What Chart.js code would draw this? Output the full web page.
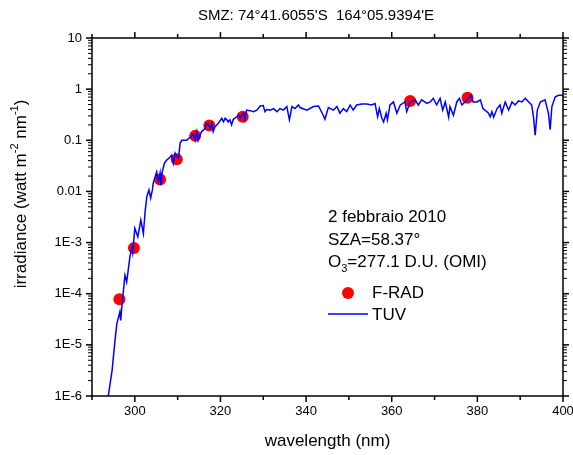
<!DOCTYPE html>
<html>
<head>
<meta charset="utf-8">
<script src="https://cdn.jsdelivr.net/npm/chart.js@4.4.0/dist/chart.umd.min.js"></script>
<style>
  html, body { margin: 0; padding: 0; background: #fff; }
  #wrap { width: 573px; height: 455px; }
</style>
</head>
<body>
<div id="wrap"><canvas id="c" width="573" height="455"></canvas></div>
<script>
// TUV model spectrum (nm, watt m-2 nm-1)
const tuvWavelength = [
  293.8, 294.7, 295.3, 295.8, 296.5, 296.7, 297.0, 297.7, 298.1, 298.9,
  299.3, 299.5, 300.0, 300.7, 301.4, 302.0, 302.4, 302.8, 303.3, 303.7,
  304.1, 304.3, 305.1, 305.5, 305.9, 306.1, 306.4, 306.9, 307.4, 308.0,
  308.6, 309.0, 309.4, 310.2, 310.6, 311.0, 312.1, 312.9, 313.7, 314.1,
  314.5, 314.8, 315.2, 315.6, 316.4, 316.8, 317.2, 317.6, 318.0, 318.3,
  318.7, 319.5, 320.3, 320.7, 321.1, 321.5, 321.8, 322.2, 322.6, 323.0,
  323.8, 324.2, 324.6, 325.0, 325.4, 325.7, 326.1, 326.9, 327.7, 328.5,
  329.3, 330.0, 330.4, 330.8, 331.6, 332.4, 333.2, 333.9, 334.7, 335.5,
  336.1, 336.7, 337.4, 338.2, 338.6, 340.2, 341.7, 342.9, 344.0, 344.4,
  345.2, 346.4, 347.2, 347.9, 348.7, 349.5, 350.3, 351.0, 351.8, 353.0,
  354.2, 355.3, 356.1, 356.7, 357.1, 357.7, 358.1, 358.7, 359.0, 359.6,
  360.4, 361.2, 362.0, 363.1, 363.5, 364.3, 365.5, 366.2, 367.0, 368.2,
  369.0, 369.7, 370.5, 371.3, 371.9, 372.5, 373.3, 373.6, 374.4, 375.2,
  375.8, 376.4, 377.1, 377.9, 378.5, 379.0, 379.9, 380.7, 381.3, 381.8,
  382.6, 383.0, 383.4, 383.8, 384.6, 385.3, 385.7, 386.5, 387.3, 388.1,
  388.8, 389.6, 390.4, 391.2, 392.0, 392.7, 393.1, 393.5, 394.0, 394.7,
  395.8, 396.6, 397.0, 397.4, 398.2, 399.0, 399.8, 400.0
];
const tuvIrradiance = [
  1.0e-6, 3.2e-6, 1.07e-5, 2.6e-5, 4.4e-5, 3.0e-5, 6.0e-5, 2.3e-4, 1.7e-4, 5.6e-4,
  7.8e-4, 6.3e-4, 1.9e-3, 1.3e-3, 2.75e-3, 1.5e-3, 4.0e-3, 7.9e-3, 1.07e-2, 7.4e-3,
  1.07e-2, 1.45e-2, 2.4e-2, 1.55e-2, 2.29e-2, 1.32e-2, 2.4e-2, 3.55e-2, 4.07e-2, 4.47e-2,
  5.13e-2, 3.55e-2, 5.62e-2, 4.47e-2, 8.9e-2, 0.1, 0.1, 0.115, 0.132, 0.1,
  0.148, 0.1, 0.126, 0.148, 0.17, 0.214, 0.2, 0.17, 0.214, 0.148,
  0.182, 0.214, 0.269, 0.229, 0.269, 0.251, 0.229, 0.251, 0.2, 0.257,
  0.288, 0.309, 0.269, 0.309, 0.339, 0.251, 0.389, 0.38, 0.363, 0.389,
  0.468, 0.479, 0.363, 0.398, 0.389, 0.417, 0.363, 0.417, 0.389, 0.457,
  0.251, 0.457, 0.417, 0.49, 0.437, 0.389, 0.457, 0.468, 0.309, 0.257,
  0.437, 0.389, 0.457, 0.339, 0.417, 0.363, 0.49, 0.389, 0.49, 0.513,
  0.513, 0.49, 0.525, 0.288, 0.417, 0.269, 0.229, 0.339, 0.251, 0.49,
  0.562, 0.339, 0.49, 0.562, 0.363, 0.562, 0.617, 0.49, 0.617, 0.525,
  0.562, 0.661, 0.49, 0.661, 0.389, 0.562, 0.282, 0.457, 0.309, 0.562,
  0.661, 0.49, 0.562, 0.661, 0.759, 0.562, 0.562, 0.617, 0.417, 0.389,
  0.339, 0.288, 0.363, 0.282, 0.417, 0.49, 0.339, 0.562, 0.389, 0.562,
  0.49, 0.589, 0.562, 0.661, 0.562, 0.49, 0.288, 0.126, 0.389, 0.562,
  0.617, 0.339, 0.162, 0.457, 0.708, 0.759, 0.759, 0.741
];

// F-RAD radiometer measurements
const fradWavelength = [296.4, 299.8, 305.9, 309.8, 314.1, 317.4, 325.2, 364.3, 377.7];
const fradIrradiance = [7.8e-5, 7.8e-4, 0.0172, 0.0428, 0.122, 0.195, 0.288, 0.585, 0.68];

// axis ticks
const xMajorTicks = [300, 320, 340, 360, 380, 400];
const xMinorTicks = [290, 310, 330, 350, 370, 390];
const yTickValues = [10, 1, 0.1, 0.01, 1e-3, 1e-4, 1e-5, 1e-6];
const yTickLabels = ['10', '1', '0.1', '0.01', '1E-3', '1E-4', '1E-5', '1E-6'];

const titleText = "SMZ: 74\u00b041.6055'S  164\u00b005.9394'E";
const infoLines = ['2 febbraio 2010', 'SZA=58.37\u00b0'];

const FONT = 'Arial, "Liberation Sans", sans-serif';

/**
 * Origin風の枠・目盛・テキストを描く
 */
const framePlugin = {
  id: 'frame',
  afterDraw(chart) {
    const { ctx, chartArea: a, scales: { x, y } } = chart;
    ctx.save();
    ctx.strokeStyle = '#000';
    ctx.fillStyle = '#000';
    ctx.lineWidth = 1.5;
    ctx.strokeRect(a.left, a.top, a.right - a.left, a.bottom - a.top);

    const tick = (x1, y1, x2, y2) => {
      ctx.beginPath();
      ctx.moveTo(x1, y1);
      ctx.lineTo(x2, y2);
      ctx.stroke();
    };

    // x ticks (bottom + top)
    xMajorTicks.forEach(v => {
      const px = x.getPixelForValue(v);
      tick(px, a.bottom, px, a.bottom + 6);
      tick(px, a.top, px, a.top - 6);
    });
    xMinorTicks.forEach(v => {
      const px = x.getPixelForValue(v);
      tick(px, a.bottom, px, a.bottom + 4);
      tick(px, a.top, px, a.top - 4);
    });

    // y ticks (left + right), log minor ticks
    yTickValues.forEach((v, i) => {
      const py = y.getPixelForValue(v);
      ctx.lineWidth = 1.5;
      tick(a.left, py, a.left - 6, py);
      tick(a.right, py, a.right + 6, py);
      ctx.lineWidth = 1;
      if (i > 0) {
        for (let m = 2; m <= 9; m++) {
          const pm = y.getPixelForValue(v * m);
          tick(a.left, pm, a.left - 4, pm);
          tick(a.right, pm, a.right + 4, pm);
        }
      }
    });

    // tick labels
    ctx.font = `13px ${FONT}`;
    ctx.textAlign = 'right';
    ctx.textBaseline = 'middle';
    yTickValues.forEach((v, i) => {
      ctx.fillText(yTickLabels[i], a.left - 10, y.getPixelForValue(v));
    });
    ctx.textAlign = 'center';
    ctx.textBaseline = 'top';
    xMajorTicks.forEach(v => {
      ctx.fillText(String(v), x.getPixelForValue(v), a.bottom + 9);
    });

    // title + axis titles
    ctx.font = `15px ${FONT}`;
    ctx.textBaseline = 'middle';
    ctx.fillText(titleText, 316, 16);
    ctx.font = `17px ${FONT}`;
    ctx.fillText('wavelength (nm)', (a.left + a.right) / 2, 441);

    // y title with superscripts
    ctx.save();
    ctx.translate(21, 194);
    ctx.rotate(-Math.PI / 2);
    const parts = [
      ['irradiance (watt m', 17, 0], ['-2', 11, -6],
      [' nm', 17, 0], ['-1', 11, -6], [')', 17, 0],
    ];
    let total = 0;
    parts.forEach(p => { ctx.font = `${p[1]}px ${FONT}`; total += ctx.measureText(p[0]).width; });
    let cx = -total / 2;
    ctx.textAlign = 'left';
    parts.forEach(p => {
      ctx.font = `${p[1]}px ${FONT}`;
      ctx.fillText(p[0], cx, p[2]);
      cx += ctx.measureText(p[0]).width;
    });
    ctx.restore();

    // info text
    ctx.textAlign = 'left';
    ctx.font = `17px ${FONT}`;
    ctx.fillText(infoLines[0], 328, 217);
    ctx.fillText(infoLines[1], 328, 240);
    ctx.fillText('O', 328, 262);
    let ox = 328 + ctx.measureText('O').width;
    ctx.font = `11px ${FONT}`;
    ctx.fillText('3', ox, 269);
    ox += ctx.measureText('3').width;
    ctx.font = `17px ${FONT}`;
    ctx.fillText('=277.1 D.U. (OMI)', ox, 262);

    // legend
    ctx.fillStyle = '#ff0000';
    ctx.beginPath();
    ctx.arc(348, 293, 6, 0, Math.PI * 2);
    ctx.fill();
    ctx.strokeStyle = '#0000ff';
    ctx.lineWidth = 1.5;
    tick(328, 314, 368, 314);
    ctx.fillStyle = '#000';
    ctx.fillText('F-RAD', 372, 293);
    ctx.fillText('TUV', 372, 315);
    ctx.restore();
  },
};

new Chart(document.getElementById('c'), {
  type: 'scatter',
  data: {
    datasets: [
      {
        label: 'TUV',
        type: 'line',
        data: tuvWavelength.map((w, i) => ({ x: w, y: tuvIrradiance[i] })),
        borderColor: '#0000ff',
        borderWidth: 1.5,
        pointRadius: 0,
        fill: false,
        tension: 0,
        order: 0,
      },
      {
        label: 'F-RAD',
        data: fradWavelength.map((w, i) => ({ x: w, y: fradIrradiance[i] })),
        backgroundColor: '#ff0000',
        borderWidth: 0,
        pointRadius: 6,
        order: 1,
      },
    ],
  },
  options: {
    responsive: false,
    animation: false,
    layout: { padding: { left: 92, right: 10, top: 38, bottom: 59 } },
    scales: {
      x: { type: 'linear', min: 290, max: 400, display: false },
      y: { type: 'logarithmic', min: 1e-6, max: 10, display: false },
    },
    plugins: {
      legend: { display: false },
      tooltip: { enabled: false },
    },
  },
  plugins: [framePlugin],
});
</script>
</body>
</html>
